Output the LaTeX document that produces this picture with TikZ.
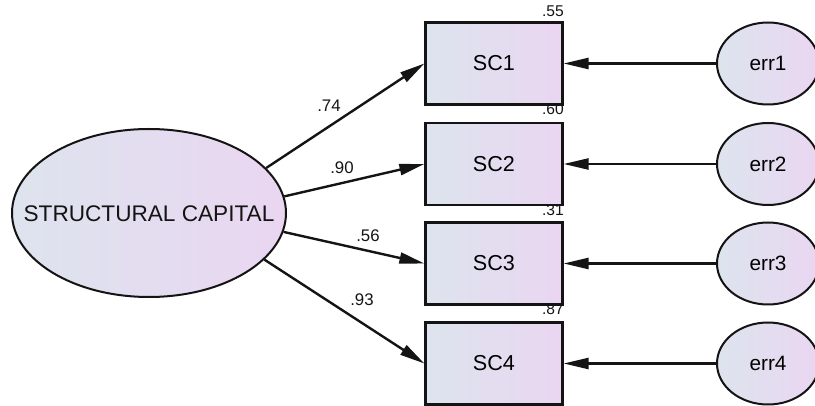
\documentclass[tikz,border=0pt]{standalone}
\usepackage{fontspec}
\setmainfont{Liberation Sans}
\usetikzlibrary{arrows.meta,shapes.geometric}
\definecolor{paleblue}{HTML}{DDE4EE}
\definecolor{lilac}{HTML}{EAD6F1}
\definecolor{ink}{HTML}{141414}
\tikzset{
  latent/.style={ellipse,draw=ink,line width=1pt,left color=paleblue,right color=lilac,inner sep=0pt},
  indicator/.style={rectangle,draw=ink,line width=1.1pt,left color=paleblue,right color=lilac,
    minimum width=68.5pt,minimum height=41pt,inner sep=0pt,font=\fontsize{10.8}{12}\selectfont},
  load/.style={-{Triangle[length=12.5pt,width=5.5pt]},ink,line width=1.2pt},
  coef/.style={font=\fontsize{8.4}{9}\selectfont,text=ink,inner sep=0pt},
}

\begin{document}
\begin{tikzpicture}[x=0.5pt,y=-0.5pt]
\useasboundingbox (0,0) rectangle (815,406);
% latent factor
\node[latent,minimum width=137pt,minimum height=84pt] (sc) at (149,213) {};
\node[font=\fontsize{11.3}{12}\selectfont,text=ink] (sctext) at (149,214) {STRUCTURAL CAPITAL};
% observed items
\node[indicator] (sc1) at (494,63.5) {SC1};
\node[indicator] (sc2) at (494,164) {SC2};
\node[indicator] (sc3) at (494,263.5) {SC3};
\node[indicator] (sc4) at (494,363.5) {SC4};
% error terms
\node[latent,minimum width=51pt,minimum height=41pt,font=\fontsize{10.4}{12}\selectfont] (e1) at (768,63.5) {err1};
\node[latent,minimum width=51pt,minimum height=41pt,font=\fontsize{10.4}{12}\selectfont] (e2) at (768,164) {err2};
\node[latent,minimum width=51pt,minimum height=41pt,font=\fontsize{10.4}{12}\selectfont] (e3) at (768,263.5) {err3};
\node[latent,minimum width=51pt,minimum height=41pt,font=\fontsize{10.4}{12}\selectfont] (e4) at (768,363.5) {err4};
% loadings
\draw[load] (sc.21) -- (sc1.west);
\draw[load] (sc.7) -- (sc2.west);
\draw[load] (sc.-8) -- (sc3.west);
\draw[load] (sc.-22) -- (sc4.west);
\draw[load] (e1) -- (sc1);
\draw[load] (e2) -- (sc2);
\draw[load] (e3) -- (sc3);
\draw[load] (e4) -- (sc4);
\node[coef] (l1) at (329,106) {.74};
\node[coef] (l2) at (342,168) {.90};
\node[coef] (l3) at (368,236) {.56};
\node[coef] (l4) at (362,300) {.93};
% squared multiple correlations
\node[coef,font=\fontsize{7.8}{9}\selectfont] (r1) at (553,11) {.55};
\node[coef,font=\fontsize{7.8}{9}\selectfont] (r2) at (553,109) {.60};
\node[coef,font=\fontsize{7.8}{9}\selectfont] (r3) at (553,210) {.31};
\node[coef,font=\fontsize{7.8}{9}\selectfont] (r4) at (553,309) {.87};
\end{tikzpicture}
\end{document}
